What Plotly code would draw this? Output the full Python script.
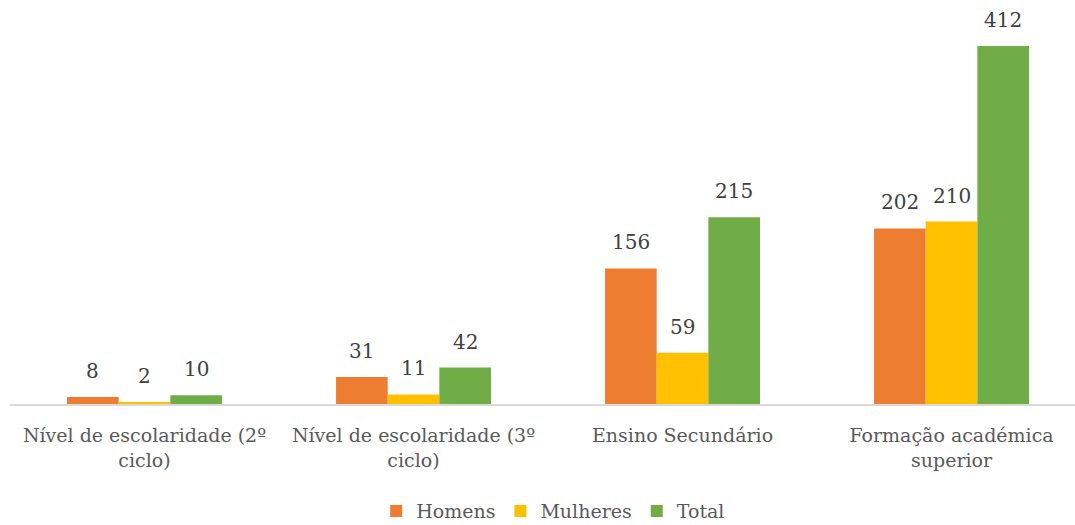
import plotly.graph_objects as go

categories = [
    "Nível de escolaridade (2º<br>ciclo)",
    "Nível de escolaridade (3º<br>ciclo)",
    "Ensino Secundário",
    "Formação académica<br>superior",
]
homens = [8, 31, 156, 202]
mulheres = [2, 11, 59, 210]
total = [10, 42, 215, 412]

series = [
    ("Homens", homens, "#ED7D31"),
    ("Mulheres", mulheres, "#FFC000"),
    ("Total", total, "#70AD47"),
]

FONT = "DejaVu Serif"
BARGAP = 0.424
bar_w = (1 - BARGAP) / len(series)

fig = go.Figure()
for name, vals, color in series:
    fig.add_trace(go.Bar(
        name=name, x=list(range(len(categories))), y=vals,
        marker=dict(color=color, line=dict(width=0)),
        hoverinfo="skip",
    ))

# value labels above each bar
for k, (name, vals, color) in enumerate(series):
    for i, v in enumerate(vals):
        fig.add_annotation(
            x=i + (k - 1) * bar_w, y=v, xref="x", yref="y",
            text=str(v), showarrow=False, yanchor="bottom", yshift=12,
            font=dict(family=FONT, size=20, color="#404040"),
        )

fig.update_layout(
    width=1075, height=525,
    font=dict(family=FONT),
    margin=dict(l=10, r=0, t=10, b=121, autoexpand=False),
    paper_bgcolor="white", plot_bgcolor="white",
    barmode="group", bargap=BARGAP, bargroupgap=0,
    showlegend=True,
    legend=dict(
        orientation="h", x=0.51, xanchor="center", y=-0.272, yanchor="middle",
        font=dict(family=FONT, size=19, color="#595959"),
        itemwidth=30, traceorder="normal",
    ),
    xaxis=dict(
        tickmode="array", tickvals=list(range(len(categories))), ticktext=categories,
        range=[-0.5, 3.459],
        showgrid=False, zeroline=False,
        showline=True, linecolor="#D9D9D9", linewidth=2,
        ticks="outside", ticklen=13, tickcolor="rgba(0,0,0,0)",
        tickfont=dict(family=FONT, size=19, color="#595959"),
    ),
    yaxis=dict(
        range=[0, 453.4], showgrid=False, zeroline=False,
        showticklabels=False, showline=False,
    ),
)

fig.write_html("out.html")
